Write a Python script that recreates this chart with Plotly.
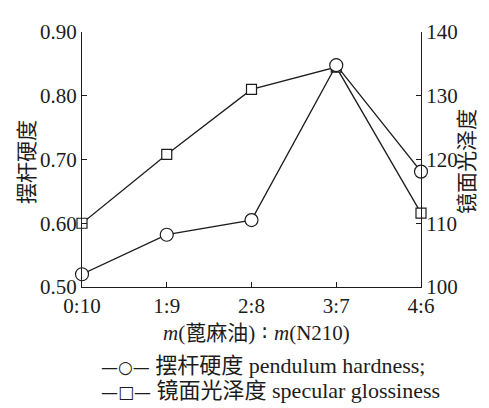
import plotly.graph_objects as go

categories = ["0:10", "1:9", "2:8", "3:7", "4:6"]
hardness = [0.520, 0.582, 0.605, 0.848, 0.681]
glossiness = [110.0, 120.8, 131.0, 134.5, 111.6]

hardness_name = "摆杆硬度 pendulum hardness;"
gloss_name = "镜面光泽度 specular glossiness"

SERIF = "Liberation Serif, Noto Sans CJK SC, serif"
INK = "#1c1c1c"

fig = go.Figure()

fig.add_trace(go.Scatter(
    x=categories, y=glossiness, name=gloss_name, yaxis="y",
    mode="lines+markers", cliponaxis=False,
    line=dict(color=INK, width=1.3),
    marker=dict(symbol="square", size=10, color="white", line=dict(color=INK, width=1.2)),
))
fig.add_trace(go.Scatter(
    x=categories, y=hardness, name=hardness_name, yaxis="y2",
    mode="lines+markers", cliponaxis=False,
    line=dict(color=INK, width=1.3),
    marker=dict(symbol="circle", size=13, color="white", line=dict(color=INK, width=1.2)),
))

axis_common = dict(
    showline=True, linecolor=INK, linewidth=1.2,
    ticks="inside", ticklen=5, tickcolor=INK, tickwidth=1.2,
    showgrid=False, zeroline=False,
    tickfont=dict(family=SERIF, size=21, color=INK),
)

sym = '<span style="font-family:DejaVu Sans;font-size:17px">{}</span> '
colon = '<span style="font-family:DejaVu Sans"> ∶ </span>'

fig.update_layout(
    width=481, height=400,
    margin=dict(l=74, r=68, t=16, b=121),
    paper_bgcolor="white", plot_bgcolor="white",
    xaxis=dict(type="category", range=[0, 4], **axis_common),
    yaxis=dict(side="right", range=[100, 140], dtick=10, **axis_common),
    yaxis2=dict(side="left", overlaying="y", range=[0.5, 0.9], dtick=0.1,
                tickformat=".2f", **axis_common),
    showlegend=False,
    annotations=[
        dict(text="摆杆硬度", xref="paper", yref="paper", x=-0.168, y=0.49,
             textangle=-90, showarrow=False, xanchor="center", yanchor="middle",
             font=dict(family="Noto Sans CJK SC", size=21, color=INK)),
        dict(text="镜面光泽度", xref="paper", yref="paper", x=1.13, y=0.49,
             textangle=-90, showarrow=False, xanchor="center", yanchor="middle",
             font=dict(family="Noto Sans CJK SC", size=21, color=INK)),
        dict(text="<i>m</i>(蓖麻油)" + colon + "<i>m</i>(N210)", xref="paper", yref="paper",
             x=0.515, y=-0.18, showarrow=False, xanchor="center", yanchor="middle",
             font=dict(family=SERIF, size=21, color=INK)),
        dict(text=sym.format("—○—") + hardness_name, xref="paper", yref="paper",
             x=0.05, y=-0.308, showarrow=False, xanchor="left", yanchor="middle",
             font=dict(family=SERIF, size=22, color=INK)),
        dict(text=sym.format("—□—") + gloss_name, xref="paper", yref="paper",
             x=0.05, y=-0.407, showarrow=False, xanchor="left", yanchor="middle",
             font=dict(family=SERIF, size=22, color=INK)),
    ],
)

fig.write_html("out.html")
